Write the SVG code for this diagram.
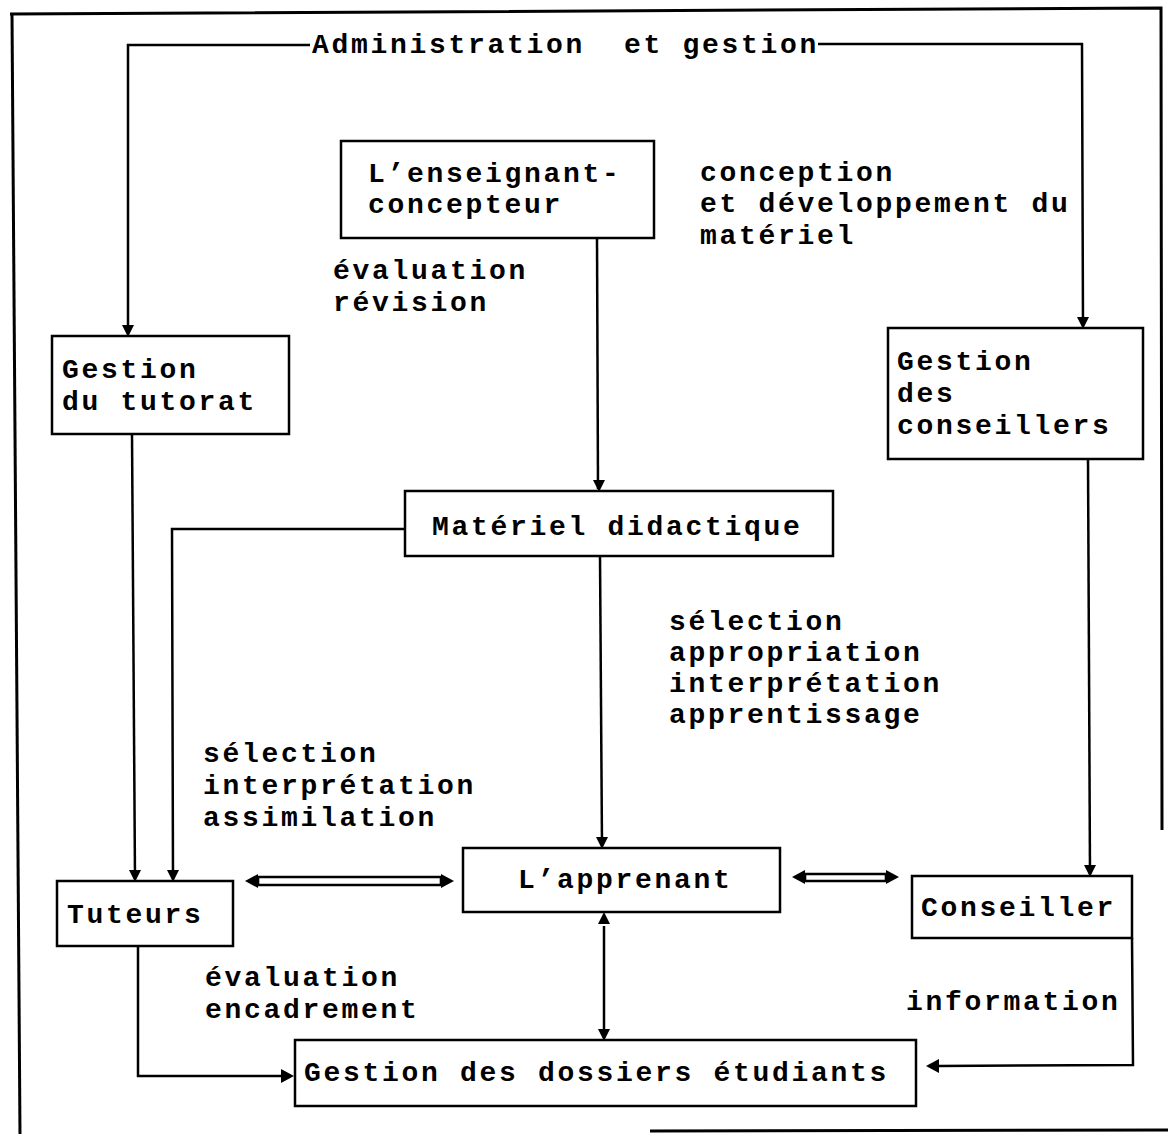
<svg xmlns="http://www.w3.org/2000/svg" width="1168" height="1134" viewBox="0 0 1168 1134">
  <style>
    .box { fill: #fff; stroke: #000; stroke-width: 2.5; }
    .ln { fill: none; stroke: #000; stroke-width: 2.5; }
    .dbl { fill: none; stroke: #000; stroke-width: 2.6; }
    .frame { fill: none; stroke: #000; stroke-width: 3; }
    .ah { fill: #000; stroke: none; }
    text { font-family: "Liberation Mono", "Courier New", monospace; font-weight: bold; font-size: 28px; letter-spacing: 2.7px; fill: #000; white-space: pre; }
  </style>
  <defs>
    <polygon id="down" class="ah" points="-6,-11 6,-11 0,1"/>
    <polygon id="up" class="ah" points="-6,11 6,11 0,-1"/>
    <polygon id="left" class="ah" points="12,-7 12,7 -1,0"/>
    <polygon id="right" class="ah" points="-12,-7 -12,7 1,0"/>
  </defs>

  <!-- page frame -->
  <g id="frame">
    <path class="frame" d="M10,14 L1161,8 L1162,830"/>
    <path class="frame" d="M12,14 L20,1134"/>
    <path class="frame" d="M650,1131 L1168,1130"/>
  </g>

  <!-- connectors -->
  <g id="connectors">
    <!-- administration loop -->
    <path class="ln" d="M310,45 L128,45 L128,334"/>
    <path class="ln" d="M818,44 L1082,44 L1083,326"/>
    <use href="#down" x="128" y="336"/>
    <use href="#down" x="1083" y="328"/>

    <!-- enseignant -> matériel -->
    <path class="ln" d="M597,238 L598,489"/>
    <use href="#down" x="599" y="491"/>

    <!-- matériel -> tuteurs -->
    <path class="ln" d="M405,529 L172,529 L173,879"/>
    <use href="#down" x="173" y="881"/>

    <!-- gestion du tutorat -> tuteurs -->
    <path class="ln" d="M132,434 L135,879"/>
    <use href="#down" x="135" y="881"/>

    <!-- matériel -> apprenant -->
    <path class="ln" d="M600,556 L602,846"/>
    <use href="#down" x="602" y="848"/>

    <!-- gestion des conseillers -> conseiller -->
    <path class="ln" d="M1088,459 L1090,874"/>
    <use href="#down" x="1090" y="876"/>

    <!-- tuteurs <-> apprenant (double line) -->
    <path class="dbl" d="M258,877 L441,877 L441,885 L258,885 Z"/>
    <use href="#left" x="246" y="881"/>
    <use href="#right" x="453" y="881"/>

    <!-- apprenant <-> conseiller (double line) -->
    <path class="dbl" d="M805,874 L886,874 L886,881 L805,881 Z"/>
    <use href="#left" x="793" y="877"/>
    <use href="#right" x="898" y="877"/>

    <!-- apprenant <-> dossiers -->
    <use href="#up" x="604" y="913"/>
    <path class="ln" d="M604,926 L604,1038"/>
    <use href="#down" x="604" y="1040"/>

    <!-- tuteurs -> dossiers -->
    <path class="ln" d="M138,946 L138,1076 L284,1076"/>
    <use href="#right" x="293" y="1076"/>

    <!-- conseiller -> dossiers -->
    <path class="ln" d="M1132,938 L1133,1065 L938,1066"/>
    <use href="#left" x="927" y="1066"/>
  </g>

  <!-- top label -->
  <g id="admin">
    <text x="312" y="53">Administration  et gestion</text>
  </g>

  <g id="enseignant">
    <rect class="box" x="341" y="141" width="313" height="97"/>
    <text x="368" y="182">L’enseignant-</text>
    <text x="368" y="213">concepteur</text>
  </g>

  <g id="tutorat">
    <rect class="box" x="52" y="336" width="237" height="98"/>
    <text x="62" y="378">Gestion</text>
    <text x="62" y="410">du tutorat</text>
  </g>

  <g id="conseillers">
    <rect class="box" x="888" y="328" width="255" height="131"/>
    <text x="897" y="370">Gestion</text>
    <text x="897" y="402">des</text>
    <text x="897" y="434">conseillers</text>
  </g>

  <g id="materiel">
    <rect class="box" x="405" y="491" width="428" height="65"/>
    <text x="432" y="535">Matériel didactique</text>
  </g>

  <g id="tuteurs">
    <rect class="box" x="57" y="881" width="176" height="65"/>
    <text x="67" y="923">Tuteurs</text>
  </g>

  <g id="apprenant">
    <rect class="box" x="463" y="848" width="317" height="64"/>
    <text x="518" y="888">L’apprenant</text>
  </g>

  <g id="conseiller">
    <rect class="box" x="912" y="876" width="220" height="62"/>
    <text x="921" y="916">Conseiller</text>
  </g>

  <g id="dossiers">
    <rect class="box" x="295" y="1040" width="621" height="66"/>
    <text x="304" y="1081">Gestion des dossiers étudiants</text>
  </g>

  <!-- flow labels -->
  <g id="labels">
    <text x="333" y="279">évaluation</text>
    <text x="333" y="311">révision</text>
    <text x="700" y="181">conception</text>
    <text x="700" y="212">et développement du</text>
    <text x="700" y="244">matériel</text>
    <text x="669" y="630">sélection</text>
    <text x="669" y="661">appropriation</text>
    <text x="669" y="692">interprétation</text>
    <text x="669" y="723">apprentissage</text>
    <text x="203" y="762">sélection</text>
    <text x="203" y="794">interprétation</text>
    <text x="203" y="826">assimilation</text>
    <text x="205" y="986">évaluation</text>
    <text x="205" y="1018">encadrement</text>
    <text x="906" y="1010">information</text>
  </g>
</svg>
